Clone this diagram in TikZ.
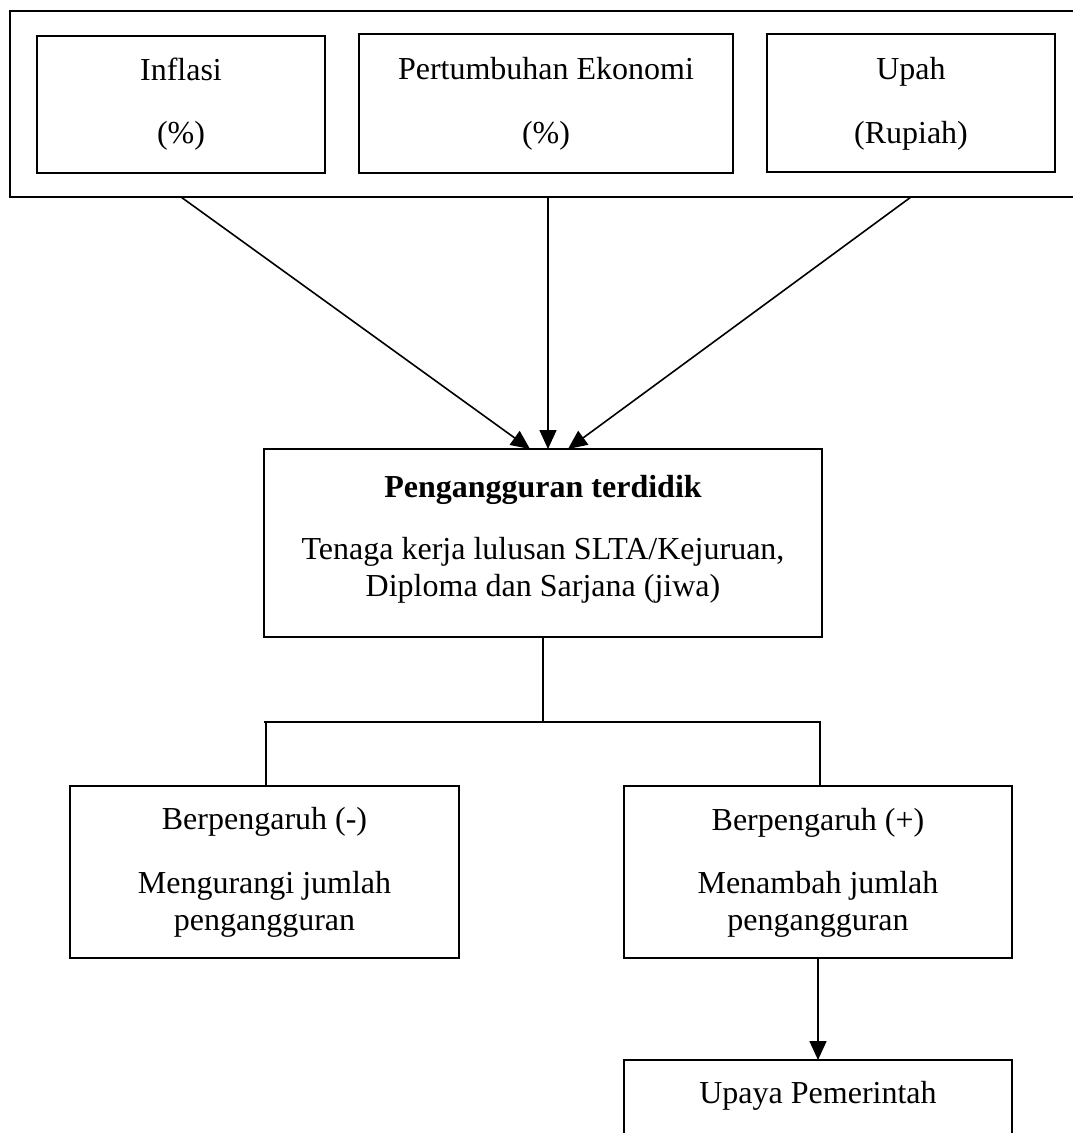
\documentclass[tikz,border=0pt]{standalone}
\usepackage{fontspec}
\setmainfont{Liberation Serif}
\usetikzlibrary{arrows.meta}

\begin{document}
\begin{tikzpicture}[x=1pt, y=-1pt, inner sep=0pt, outer sep=0pt,
  every node/.append style={font=\fontsize{32}{37}\selectfont},
  box/.style={draw=black, line width=1.8pt, fill=none},
  lbl/.style={anchor=base, align=center},
  link/.style={draw=black, line width=1.6pt},
  arr/.style={link, -{Triangle[length=19pt, width=17pt]}}]
  \useasboundingbox (0, 0) rectangle (1073, 1133);

  % frame of the three variables
  \node[box, line width=2.2pt, minimum width=1090, minimum height=186] (frame) at (555, 104){};

  \node[box, minimum width=288, minimum height=137] (inflasi) at (181, 104.5){};
  \node[box, minimum width=374, minimum height=139] (pertumbuhan) at (546, 103.5){};
  \node[box, minimum width=288, minimum height=138] (upah) at (911, 103){};

  \node[lbl] (txtInflasi) at (181, 80){Inflasi};
  \node[lbl] (txtInflasiSat) at (181, 143){(\%)};
  \node[lbl] (txtPertumbuhan) at (546, 79){Pertumbuhan Ekonomi};
  \node[lbl] (txtPertumbuhanSat) at (546, 143){(\%)};
  \node[lbl] (txtUpah) at (911, 79){Upah};
  \node[lbl] (txtUpahSat) at (911, 143){(Rupiah)};

  % dependent variable
  \node[box, minimum width=558, minimum height=188] (core) at (543, 543){};
  \node[lbl, font=\fontsize{32}{37}\selectfont\bfseries] (txtCore) at (543, 497){Pengangguran terdidik};
  \node[lbl] (txtCoreA) at (543, 559){Tenaga kerja lulusan SLTA/Kejuruan,};
  \node[lbl] (txtCoreB) at (543, 596){Diploma dan Sarjana (jiwa)};

  \coordinate (midIn) at (548, 449);
  \draw[arr] (inflasi |- frame.south) -- ([xshift=-13pt]core.north);
  \draw[arr] (midIn |- frame.south) -- (midIn);
  \draw[arr] (upah |- frame.south) -- ([xshift=25pt]core.north);

  % effects
  \node[box, minimum width=389, minimum height=172] (negatif) at (264.5, 872){};
  \node[lbl] (txtNegatif) at (264.5, 829){Berpengaruh (-)};
  \node[lbl] (txtNegatifA) at (264.5, 893){Mengurangi jumlah};
  \node[lbl] (txtNegatifB) at (264.5, 930){pengangguran};

  \node[box, minimum width=388, minimum height=172] (positif) at (818, 872){};
  \node[lbl] (txtPositif) at (818, 830){Berpengaruh (+)};
  \node[lbl] (txtPositifA) at (818, 893){Menambah jumlah};
  \node[lbl] (txtPositifB) at (818, 930){pengangguran};

  \coordinate (branchL) at (266, 722);
  \coordinate (branchR) at (820, 722);
  \draw[link] (core.south) -- (core.south |- branchL);
  \draw[link] ([xshift=-2pt]branchL) -- ([xshift=1pt]branchR);
  \draw[link] (branchL) -- (branchL |- negatif.north);
  \draw[link] (branchR) -- (branchR |- positif.north);

  % government
  \node[box, minimum width=388, minimum height=100] (upaya) at (818, 1110){};
  \node[lbl] (txtUpaya) at (818, 1103){Upaya Pemerintah};

  \draw[arr] (positif.south) -- (upaya.north);
\end{tikzpicture}
\end{document}
